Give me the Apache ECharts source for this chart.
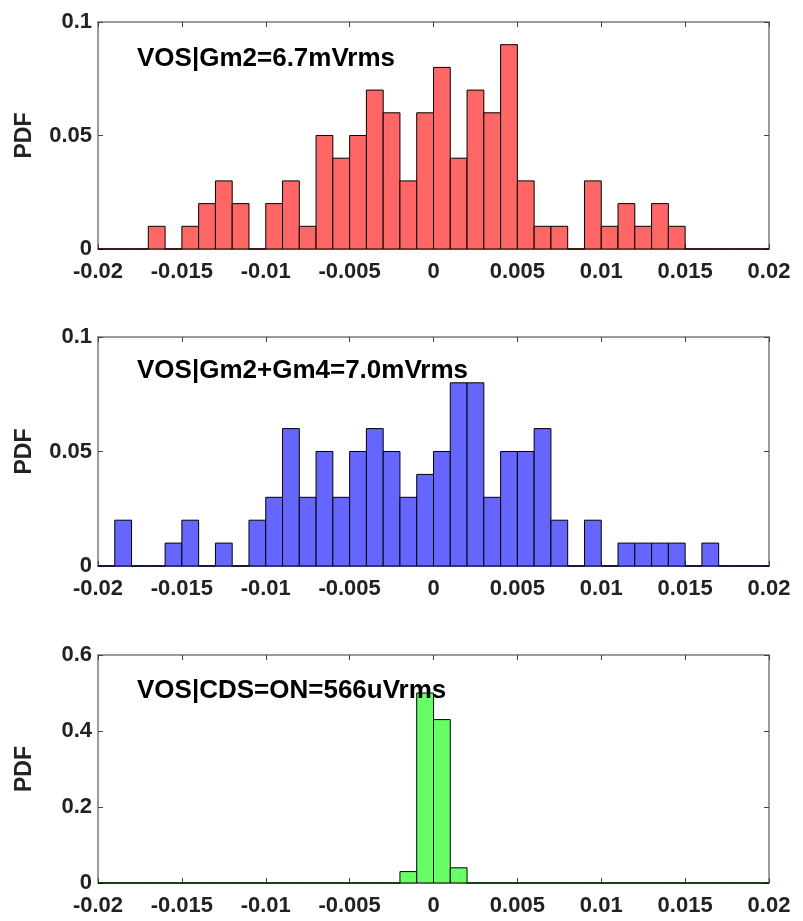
<!DOCTYPE html>
<html>
<head>
<meta charset="utf-8">
<script src="https://cdn.jsdelivr.net/npm/echarts@6/dist/echarts.min.js"></script>
<style>
html, body { margin: 0; padding: 0; background: #fff; }
#main { width: 803px; height: 921px; }
</style>
</head>
<body>
<div id="main"></div>
<script>
// 40 histogram bins of width 0.001 covering -0.02 .. 0.02
const binStart = -0.02;
const binWidth = 0.001;

const pdfGm2 = [
  0, 0, 0, 0.01, 0, 0.01, 0.02, 0.03, 0.02, 0,
  0.02, 0.03, 0.01, 0.05, 0.04, 0.05, 0.07, 0.06, 0.03, 0.06,
  0.08, 0.04, 0.07, 0.06, 0.09, 0.03, 0.01, 0.01, 0, 0.03,
  0.01, 0.02, 0.01, 0.02, 0.01, 0, 0, 0, 0, 0
];
const pdfGm2Gm4 = [
  0, 0.02, 0, 0, 0.01, 0.02, 0, 0.01, 0, 0.02,
  0.03, 0.06, 0.03, 0.05, 0.03, 0.05, 0.06, 0.05, 0.03, 0.04,
  0.05, 0.08, 0.08, 0.03, 0.05, 0.05, 0.06, 0.02, 0, 0.02,
  0, 0.01, 0.01, 0.01, 0.01, 0, 0.01, 0, 0, 0
];
const pdfCds = [
  0, 0, 0, 0, 0, 0, 0, 0, 0, 0,
  0, 0, 0, 0, 0, 0, 0, 0, 0.03, 0.5,
  0.43, 0.04, 0, 0, 0, 0, 0, 0, 0, 0,
  0, 0, 0, 0, 0, 0, 0, 0, 0, 0
];

const titles = ['VOS|Gm2=6.7mVrms', 'VOS|Gm2+Gm4=7.0mVrms', 'VOS|CDS=ON=566uVrms'];
const colors = ['#ff6666', '#6666ff', '#66ff66'];
const yMaxes = [0.1, 0.1, 0.6];
const ySteps = [0.05, 0.05, 0.2];
const panels = [pdfGm2, pdfGm2Gm4, pdfCds];

const gridTops = [22, 337, 655];
const gridHeights = [227, 229, 228];
const titleTops = [46, 358, 678];

const font = 'Liberation Sans';
const boxColor = '#7a7a7a';
const tickColor = '#444';

var chartDom = document.getElementById('main');
var myChart = echarts.init(chartDom);

const grid = [], xAxis = [], yAxis = [], series = [], title = [];

panels.forEach(function (values, k) {
  grid.push({ left: 98, right: 34, top: gridTops[k], height: gridHeights[k] });

  title.push({
    text: titles[k],
    left: 137,
    top: titleTops[k],
    padding: 0,
    textStyle: { fontFamily: font, fontSize: 26, fontWeight: 'bold', color: '#000' }
  });

  // bottom axis (with labels) and top axis (box edge)
  xAxis.push({
    type: 'value', gridIndex: k, min: -0.02, max: 0.02, interval: 0.005,
    splitLine: { show: false },
    axisLine: { show: true, onZero: false, lineStyle: { color: colors[k], width: 2 } },
    axisTick: { show: true, inside: true, length: 5, lineStyle: { color: tickColor } },
    axisLabel: { fontFamily: font, fontSize: 22, fontWeight: 'bold', color: '#222', margin: 12 }
  });
  xAxis.push({
    type: 'value', gridIndex: k, position: 'top', min: -0.02, max: 0.02, interval: 0.005,
    splitLine: { show: false },
    axisLine: { show: true, onZero: false, lineStyle: { color: boxColor, width: 1.5 } },
    axisTick: { show: true, inside: true, length: 5, lineStyle: { color: tickColor } },
    axisLabel: { show: false }
  });

  yAxis.push({
    type: 'value', gridIndex: k, position: 'left', min: 0, max: yMaxes[k], interval: ySteps[k],
    name: 'PDF', nameLocation: 'middle', nameGap: 62, nameRotate: 90,
    nameTextStyle: { fontFamily: font, fontSize: 23, fontWeight: 'bold', color: '#222' },
    splitLine: { show: false },
    axisLine: { show: true, onZero: false, lineStyle: { color: boxColor, width: 1.5 } },
    axisTick: { show: true, inside: true, length: 5, lineStyle: { color: tickColor } },
    axisLabel: { fontFamily: font, fontSize: 22, fontWeight: 'bold', color: '#222', margin: 6 }
  });
  yAxis.push({
    type: 'value', gridIndex: k, position: 'right', min: 0, max: yMaxes[k], interval: ySteps[k],
    splitLine: { show: false },
    axisLine: { show: true, onZero: false, lineStyle: { color: boxColor, width: 1.5 } },
    axisTick: { show: true, inside: true, length: 5, lineStyle: { color: tickColor } },
    axisLabel: { show: false }
  });

  const data = values.map(function (v, i) {
    const x0 = binStart + i * binWidth;
    return [x0, x0 + binWidth, v];
  });

  series.push({
    type: 'custom',
    xAxisIndex: 2 * k,
    yAxisIndex: 2 * k,
    encode: { x: [0, 1], y: 2 },
    data: data,
    z: 3,
    renderItem: function (params, api) {
      const p0 = api.coord([api.value(0), api.value(2)]);
      const p1 = api.coord([api.value(1), 0]);
      return {
        type: 'rect',
        shape: { x: p0[0], y: p0[1], width: p1[0] - p0[0], height: p1[1] - p0[1] },
        style: { fill: colors[k], stroke: '#000', lineWidth: 1 }
      };
    }
  });
});

myChart.setOption({
  animation: false,
  backgroundColor: '#fff',
  title: title,
  grid: grid,
  xAxis: xAxis,
  yAxis: yAxis,
  series: series
});
</script>
</body>
</html>
